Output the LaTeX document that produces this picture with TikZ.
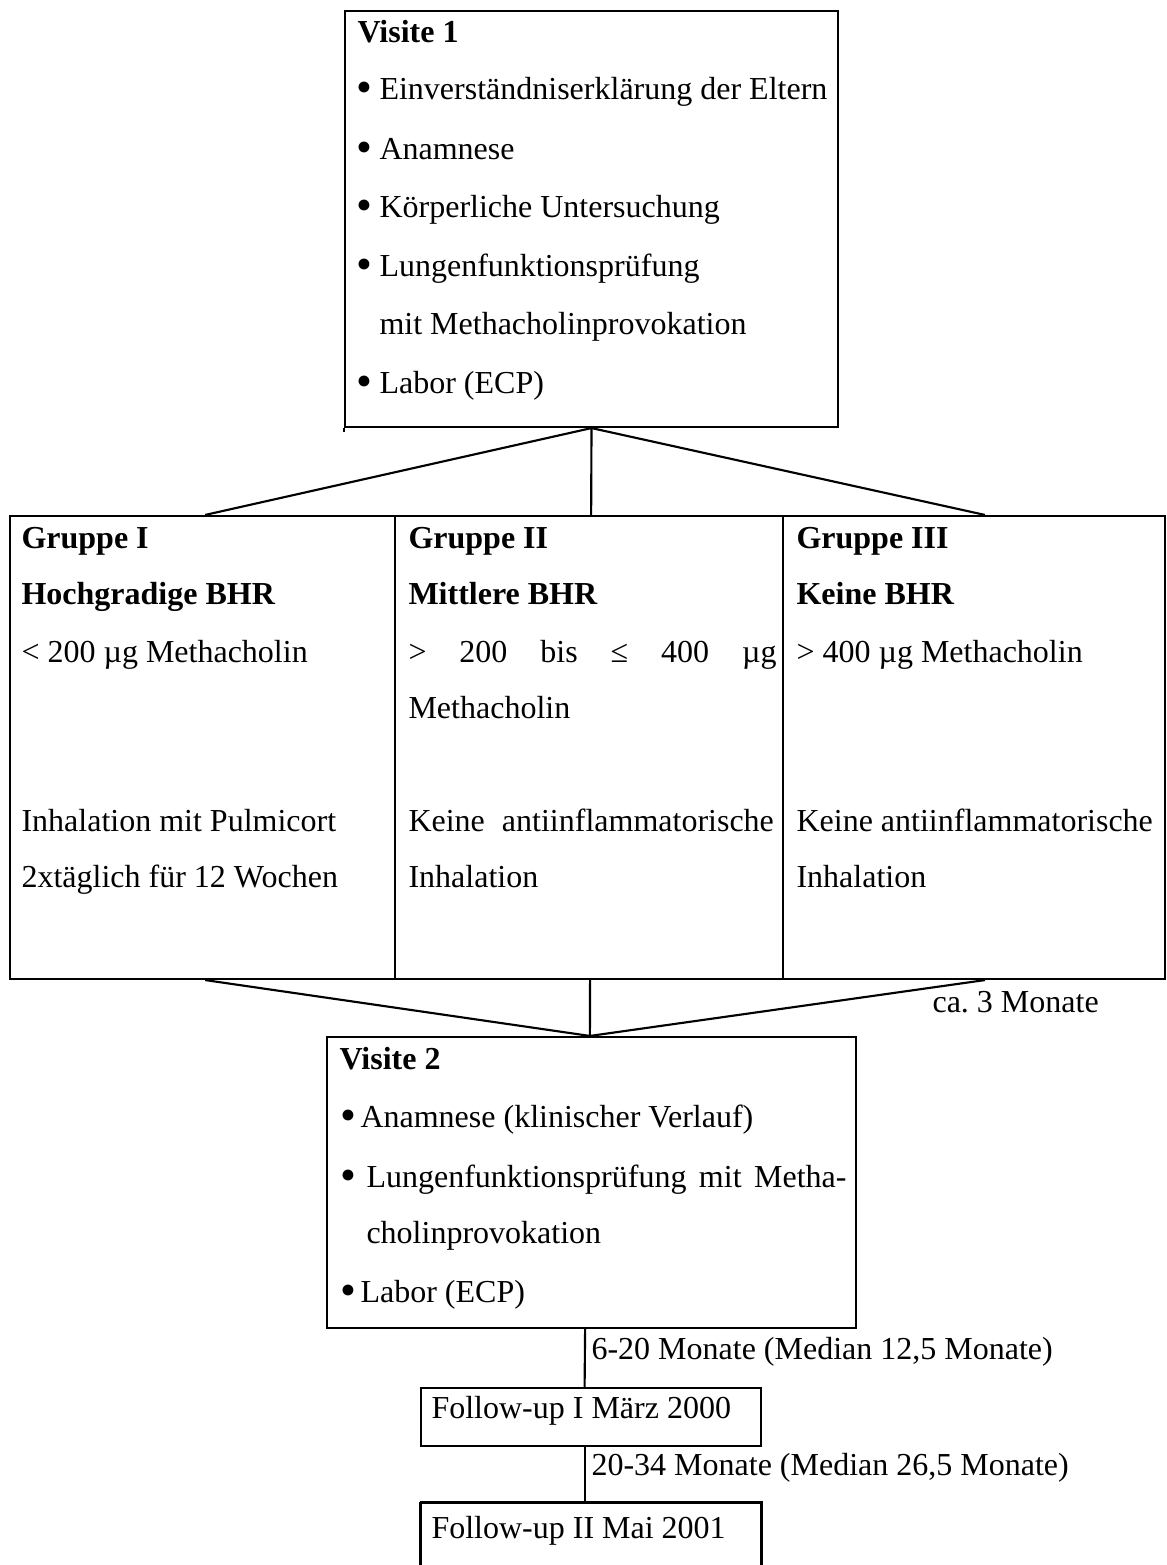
\documentclass[tikz,border=0pt]{standalone}
\usepackage{fontspec}
\setmainfont{Liberation Serif}
\usetikzlibrary{fit}
\frenchspacing
\begin{document}
\begin{tikzpicture}[x=0.375pt,y=-0.375pt,
  box/.style={draw, line width=0.8pt, inner sep=0pt},
  txt/.style={anchor=base west, inner sep=0pt, font=\fontsize{12}{14}\selectfont},
  btxt/.style={anchor=base west, inner sep=0pt, font=\fontsize{12}{14}\selectfont\bfseries},
  bul/.style={anchor=base west, inner sep=0pt, font=\fontsize{17}{17}\selectfont},
  link/.style={line width=0.8pt}]
\useasboundingbox (0,0) rectangle (1166,1565);

% boxes
\node[box, fit={(345,11) (838,427)}] (v1) {};
\node[box, fit={(10,516) (395,979)}] (g1) {};
\node[box, fit={(395,516) (783,979)}] (g2) {};
\node[box, fit={(783,516) (1165,979)}] (g3) {};
\node[box, fit={(327,1037) (856,1328)}] (v2) {};
\node[box, fit={(421,1388) (761,1446)}] (f1) {};
\node[inner sep=0pt, fit={(421,1503) (761,1565)}] (f2) {};
\draw[line width=0.8pt] (f2.south west) -- (f2.north west);
\draw[line width=1.1pt] (f2.north west) -- (f2.north east) -- (f2.south east);
\draw[line width=0.8pt] (v1.south west) -- ++(0,4);

% connectors
\draw[link] (v1.south) -- ([xshift=1pt]g1.north);
\draw[link] (v1.south) -- ([xshift=0.8pt]g2.north);
\draw[link] (v1.south) -- ([xshift=4.1pt]g3.north);
\draw[link] ([xshift=1pt]g1.south) -- ([xshift=-0.6pt]v2.north);
\draw[link] ([xshift=0.4pt]g2.south) -- ([xshift=-0.6pt]v2.north);
\draw[link] ([xshift=4.1pt]g3.south) -- ([xshift=-0.6pt]v2.north);
\draw[link] ([xshift=-2.4pt]v2.south) -- ([xshift=-2.4pt]f1.north);
\draw[link] ([xshift=-2.4pt]f1.south) -- ([xshift=-2.4pt]f2.north);

% Visite 1
\node[btxt] (v1t) at (357,43) {Visite 1};
\node[bul] (v1b1) at (356,103) {•};
\node[txt] (v1a) at (379,100) {Einverständniserklärung der Eltern};
\node[bul] (v1b2) at (356,163) {•};
\node[txt] (v1b) at (379,160) {Anamnese};
\node[bul] (v1b3) at (356,221) {•};
\node[txt] (v1c) at (379,218) {Körperliche Untersuchung};
\node[bul] (v1b4) at (356,280) {•};
\node[txt] (v1d) at (379,277) {Lungenfunktionsprüfung};
\node[txt] (v1e) at (379,334) {mit Methacholinprovokation};
\node[bul] (v1b5) at (356,396) {•};
\node[txt] (v1f) at (379,393) {Labor (ECP)};

% Gruppe I
\node[btxt] (g1a) at (21,548) {Gruppe I};
\node[btxt] (g1b) at (21,604) {Hochgradige BHR};
\node[txt] (g1c) at (21,662) {< 200 µg Methacholin};
\node[txt] (g1d) at (21,831) {Inhalation mit Pulmicort};
\node[txt] (g1e) at (21,887) {2xtäglich für 12 Wochen};

% Gruppe II
\node[btxt] (g2a) at (408,548) {Gruppe II};
\node[btxt] (g2b) at (408,604) {Mittlere BHR};
\node[txt] (g2c) at (408,662) {\hbox to 138pt{>\hfill 200\hfill bis\hfill ≤\hfill 400\hfill µg}};
\node[txt] (g2d) at (408,718) {Methacholin};
\node[txt] (g2e) at (408,831) {\hbox to 137pt{Keine\hfill antiinflammatorische}};
\node[txt] (g2f) at (408,887) {Inhalation};

% Gruppe III
\node[btxt] (g3a) at (796,548) {Gruppe III};
\node[btxt] (g3b) at (796,604) {Keine BHR};
\node[txt] (g3c) at (796,662) {> 400 µg Methacholin};
\node[txt] (g3d) at (796,831) {Keine antiinflammatorische};
\node[txt] (g3e) at (796,887) {Inhalation};

\node[txt] (ca) at (932,1012) {ca. 3 Monate};

% Visite 2
\node[btxt] (v2t) at (339,1069) {Visite 2};
\node[bul] (v2b1) at (340,1130) {•};
\node[txt] (v2a) at (360,1127) {Anamnese (klinischer Verlauf)};
\node[bul] (v2b2) at (340,1190) {•};
\node[txt] (v2b) at (366,1187) {\hbox to 180pt{Lungenfunktionsprüfung\hfill mit\hfill Metha-}};
\node[txt] (v2c) at (366,1243) {cholinprovokation};
\node[bul] (v2b3) at (340,1305) {•};
\node[txt] (v2d) at (360,1302) {Labor (ECP)};

% follow-ups
\node[txt] (m1) at (591,1359) {6-20 Monate (Median 12,5 Monate)};
\node[txt] (f1t) at (431,1418) {Follow-up I März 2000};
\node[txt] (m2) at (591,1475) {20-34 Monate (Median 26,5 Monate)};
\node[txt] (f2t) at (431,1538) {Follow-up II Mai 2001};
\end{tikzpicture}
\end{document}
